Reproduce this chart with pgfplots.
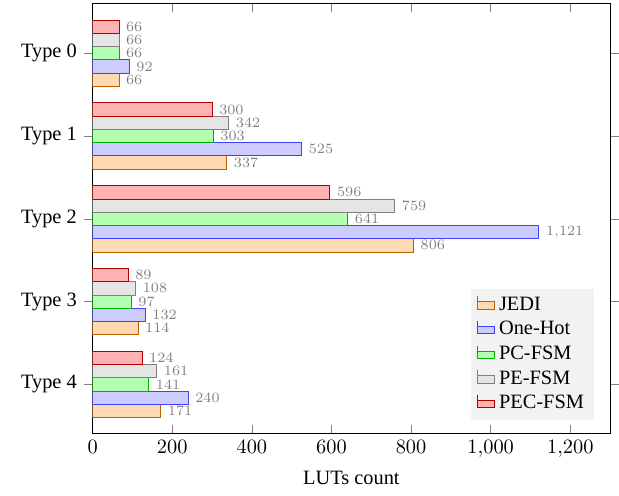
\documentclass[border=0pt]{standalone}
\usepackage{fontspec}
\setmainfont{Liberation Serif}
\usepackage{pgfplots}
\pgfplotsset{compat=1.18}
\begin{document}
\begin{tikzpicture}
\begin{axis}[
  scale only axis,
  width=254pt, height=211pt,
  xbar=0pt,
  bar width=0.16,
  xmin=0, xmax=1300,
  ymin=-0.59, ymax=4.6,
  xtick={0,200,...,1200},
  ytick={0,1,2,3,4},
  yticklabels={Type 4,Type 3,Type 2,Type 1,Type 0},
  ytick align=outside,
  major tick style={gray},
  xlabel={LUTs count},
  nodes near coords,
  every node near coord/.append style={font=\scriptsize, color=gray, anchor=west},
  legend pos=south east,
  legend style={fill=gray!10, draw=none},
  legend cell align=left,
  legend image code/.code={
    \draw[#1] (0pt,-2pt) rectangle (8.5pt,1.5pt);
    \draw[#1] (0pt,1.5pt) -- (0pt,4.2pt);
  },
]
\addplot[draw=orange!75!black, fill=orange!30] coordinates {(171,0) (114,1) (806,2) (337,3) (66,4)};
\addplot[draw=blue!75, fill=blue!20] coordinates {(240,0) (132,1) (1121,2) (525,3) (92,4)};
\addplot[draw=green!70!black, fill=green!30] coordinates {(141,0) (97,1) (641,2) (303,3) (66,4)};
\addplot[draw=gray, fill=gray!20] coordinates {(161,0) (108,1) (759,2) (342,3) (66,4)};
\addplot[draw=red!70!black, fill=red!30] coordinates {(124,0) (89,1) (596,2) (300,3) (66,4)};
\legend{JEDI,One-Hot,PC-FSM,PE-FSM,PEC-FSM}
\end{axis}
\path (current bounding box.south west) ++(-7pt,-2pt);
\path (current bounding box.north east) ++(0,1.5pt);
\end{tikzpicture}
\end{document}
